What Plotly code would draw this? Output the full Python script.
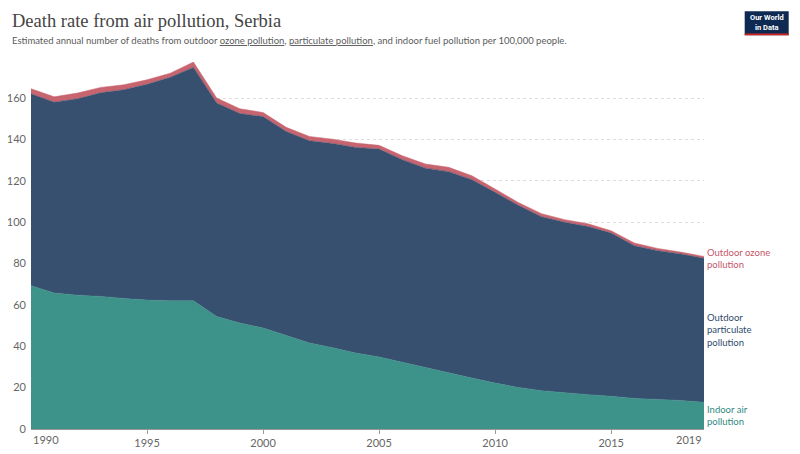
import plotly.graph_objects as go

years = list(range(1990, 2020))

indoor = [69.3, 65.7, 64.7, 64.1, 63.1, 62.3, 62.0, 62.0, 54.4, 51.2,
          48.8, 45.1, 41.6, 39.3, 36.7, 34.8, 32.2, 29.5, 27.1, 24.6,
          22.2, 20.1, 18.5, 17.4, 16.6, 15.8, 14.8, 14.3, 13.8, 12.9]
particulate = [92.7, 92.3, 94.9, 98.4, 100.9, 104.3, 108.0, 112.8, 103.2, 101.3,
               102.2, 98.7, 97.7, 98.7, 99.4, 100.5, 98.0, 96.6, 97.3, 95.9,
               92.2, 88.0, 84.1, 82.5, 81.3, 78.9, 73.8, 71.9, 70.8, 69.6]
ozone = [2.5, 2.6, 2.8, 2.6, 2.4, 2.2, 2.0, 2.6, 2.4, 2.3,
         2.0, 2.0, 2.1, 2.1, 2.1, 1.8, 1.9, 2.0, 2.1, 1.9,
         1.6, 1.4, 1.5, 1.3, 1.3, 1.1, 1.3, 1.1, 0.9, 0.9]

y_ticks = [0, 20, 40, 60, 80, 100, 120, 140, 160]
x_ticks = [1995, 2000, 2005, 2010, 2015]

teal = "#3d928a"
navy = "#37506f"
red = "#c8646f"

fig = go.Figure()
fig.add_trace(go.Scatter(x=years, y=indoor, stackgroup="one", mode="lines",
                         line=dict(width=0.5, color=teal), fillcolor=teal,
                         name="Indoor air pollution"))
fig.add_trace(go.Scatter(x=years, y=particulate, stackgroup="one", mode="lines",
                         line=dict(width=0.5, color=navy), fillcolor=navy,
                         name="Outdoor particulate pollution"))
fig.add_trace(go.Scatter(x=years, y=ozone, stackgroup="one", mode="lines",
                         line=dict(width=0.5, color=red), fillcolor=red,
                         name="Outdoor ozone pollution"))

total = [a + b + c for a, b, c in zip(indoor, particulate, ozone)]

# page body has an 8px margin, so the figure is 8px smaller than the window
# plot area on screen: left 31, right 704, top 62, bottom 429
W, H = 673, 367


def px(x):
    return (x - 31) / W


def py(y):
    return (429 - y) / H


fig.update_layout(
    width=792, height=446,
    margin=dict(l=23, r=96, t=54, b=25),
    paper_bgcolor="white", plot_bgcolor="white",
    showlegend=False,
    font=dict(family="Lato, Noto Sans, sans-serif", size=11, color="#666"),
    xaxis=dict(range=[1990, 2019], tickvals=x_ticks, showgrid=False, automargin=False,
               ticks="outside", ticklen=4, tickcolor="#999",
               showline=False, zeroline=False, tickfont=dict(size=11, color="#666")),
    yaxis=dict(range=[0, max(total)], tickvals=y_ticks, showgrid=True, automargin=False,
               gridcolor="#dddddd", griddash="dot", zeroline=True,
               zerolinecolor="#999", zerolinewidth=1,
               ticks="", ticklabelstandoff=4, tickfont=dict(size=11, color="#666")),
)

fig.add_annotation(text="Death rate from air pollution, Serbia", xref="paper", yref="paper",
                   x=px(10), y=py(21), xanchor="left", yanchor="middle",
                   showarrow=False, font=dict(family="Liberation Serif, serif", size=18.5, color="#444"))
fig.add_annotation(text="Estimated annual number of deaths from outdoor <u>ozone pollution</u>, "
                        "<u>particulate pollution</u>, and indoor fuel pollution per 100,000 people.",
                   xref="paper", yref="paper",
                   x=px(10), y=py(41), xanchor="left", yanchor="middle",
                   showarrow=False, font=dict(size=9.5, color="#5b5b5b"))

# first/last year labels aligned to the plot edges
fig.add_annotation(text=str(years[0]), x=years[0], y=0, yref="y", xanchor="left", yanchor="top",
                   yshift=-2, showarrow=False, font=dict(size=11, color="#666"))
fig.add_annotation(text=str(years[-1]), x=years[-1], y=0, yref="y", xanchor="right", yanchor="top",
                   yshift=-2, showarrow=False, font=dict(size=11, color="#666"))

# series labels at the right
label_font = 9.5
fig.add_annotation(text="Outdoor ozone<br>pollution", x=years[-1], y=total[-1], xanchor="left",
                   yanchor="middle", xshift=1, yshift=-2, showarrow=False, align="left",
                   font=dict(size=label_font, color="#c4566a"))
fig.add_annotation(text="Outdoor<br>particulate<br>pollution", x=years[-1],
                   y=indoor[-1] + particulate[-1] / 2, xanchor="left", yanchor="middle", xshift=1,
                   showarrow=False, align="left", font=dict(size=label_font, color="#2f4a6b"))
fig.add_annotation(text="Indoor air<br>pollution", x=years[-1], y=indoor[-1] / 2,
                   xanchor="left", yanchor="middle", xshift=1, showarrow=False, align="left",
                   font=dict(size=label_font, color="#2f8a82"))

# logo
fig.add_shape(type="rect", xref="paper", yref="paper",
              x0=px(744.7), x1=px(788.7), y0=py(35.3), y1=py(11.3),
              fillcolor="#0f2a52", line=dict(width=0))
fig.add_shape(type="rect", xref="paper", yref="paper",
              x0=px(744.7), x1=px(788.7), y0=py(35.3), y1=py(33.5),
              fillcolor="#ce261e", line=dict(width=0))
fig.add_annotation(text="<b>Our World<br>in Data</b>", xref="paper", yref="paper",
                   x=px(766.7), y=py(22.5), xanchor="center", yanchor="middle",
                   showarrow=False, align="center",
                   font=dict(family="Roboto, sans-serif", size=7.5, color="white"))

fig.write_html("out.html")
